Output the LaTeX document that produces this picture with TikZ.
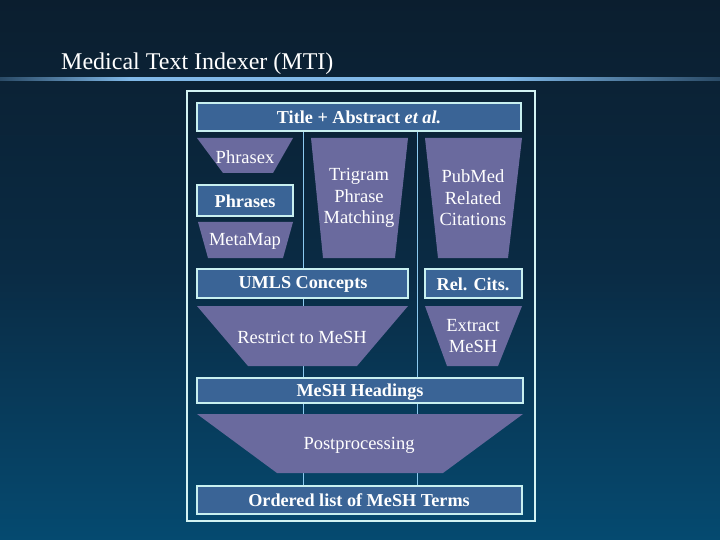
\documentclass[tikz,border=0pt]{standalone}
\usepackage{fontspec}
\setmainfont{Liberation Serif}
\usetikzlibrary{calc}
\definecolor{bgtop}{HTML}{0B1E2F}
\definecolor{bgbot}{HTML}{054A70}
\definecolor{bgmid}{HTML}{0A2B44}
\definecolor{boxfill}{HTML}{3A6496}
\definecolor{trapfill}{HTML}{6A6A9E}
\definecolor{edgecol}{HTML}{C8F0F0}
\definecolor{vline}{HTML}{8CCAF0}
\definecolor{rulecol}{HTML}{80B8E8}
\definecolor{ruledim}{HTML}{2A4A66}
\pgfdeclarehorizontalshading{titlerule}{100bp}{color(0bp)=(ruledim); color(25bp)=(ruledim); color(34bp)=(rulecol); color(60bp)=(rulecol); color(75bp)=(ruledim); color(100bp)=(ruledim)}
\tikzset{
  box/.style={draw=edgecol, line width=1.3pt, fill=boxfill},
  trap/.style={fill=trapfill},
  lbl/.style={text=white, font=\fontsize{18.5}{21.5}\selectfont, align=center, inner sep=0pt},
  blbl/.style={text=white, font=\fontsize{18.2}{21.5}\selectfont\bfseries, align=center, inner sep=0pt},
  flow/.style={draw=vline, line width=1pt},
}
\begin{document}
\begin{tikzpicture}[x=1pt,y=-1pt]
\useasboundingbox (0,0) rectangle (720,540);
% background
\shade[top color=bgtop, bottom color=bgbot, middle color=bgmid] (0,0) rectangle (720,540);
% title rule
\shade[shading=titlerule] (0,77.8) rectangle (720,80.4);
\node[anchor=base west, text=white, font=\fontsize{24}{28}\selectfont, inner sep=0pt] (title) at (61,70) {Medical Text Indexer (MTI)};
% outer frame
\draw[draw=edgecol!80!white, line width=1.2pt] (187,91) rectangle (535,521);
% vertical flow lines
\coordinate (la) at (303,131);
\coordinate (lb) at (303,486);
\coordinate (ra) at (417,131);
\coordinate (rb) at (417,486);
\draw[flow] (la) -- (lb);
\draw[flow] (ra) -- (rb);
% top box
\draw[box] (197,103) rectangle (521,131);
\node[blbl] (ta) at (359,117) {Title + Abstract \textit{et al.}};
% Phrasex
\fill[trap] (197,138) -- (293,138) -- (273,173) -- (223,173) -- cycle;
\node[lbl] (phrasex) at (245,157) {Phrasex};
% Phrases
\draw[box] (197,185) rectangle (293,216);
\node[blbl] (phrases) at (245,201) {Phrases};
% MetaMap
\fill[trap] (198,222) -- (293,222) -- (283,258) -- (208,258) -- cycle;
\node[lbl] (metamap) at (245,241) {MetaMap};
% Trigram
\fill[trap] (311,138) -- (408,138) -- (395,258) -- (323,258) -- cycle;
\node[lbl] (trigram) at (359,198) {Trigram\\Phrase\\Matching};
% PubMed
\fill[trap] (425,138) -- (522,138) -- (508,258) -- (438,258) -- cycle;
\node[lbl] (pubmed) at (473,198) {PubMed\\Related\\Citations};
% UMLS
\draw[box] (197,269) rectangle (408,298);
\node[blbl] (umls) at (303,284) {UMLS Concepts};
\draw[box] (425,269) rectangle (522,298);
\node[blbl] (relcits) at (473,284) {Rel. Cits.};
% Restrict
\fill[trap] (197,306) -- (408,306) -- (357,366) -- (248,366) -- cycle;
\node[lbl] (restrict) at (302,337) {Restrict to MeSH};
\fill[trap] (425,306) -- (522,306) -- (498,366) -- (447,366) -- cycle;
\node[lbl] (extract) at (473,336) {Extract\\MeSH};
% MeSH Headings
\draw[box] (197,378) rectangle (523,403);
\node[blbl] (mesh) at (360,392) {MeSH Headings};
% Postprocessing
\fill[trap] (197,414) -- (523,414) -- (443,473) -- (277,473) -- cycle;
\node[lbl] (post) at (359,445) {Postprocessing};
% Ordered list
\draw[box] (197,486) rectangle (522,514);
\node[blbl] (ordered) at (359,500) {Ordered list of MeSH Terms};
\end{tikzpicture}
\end{document}
